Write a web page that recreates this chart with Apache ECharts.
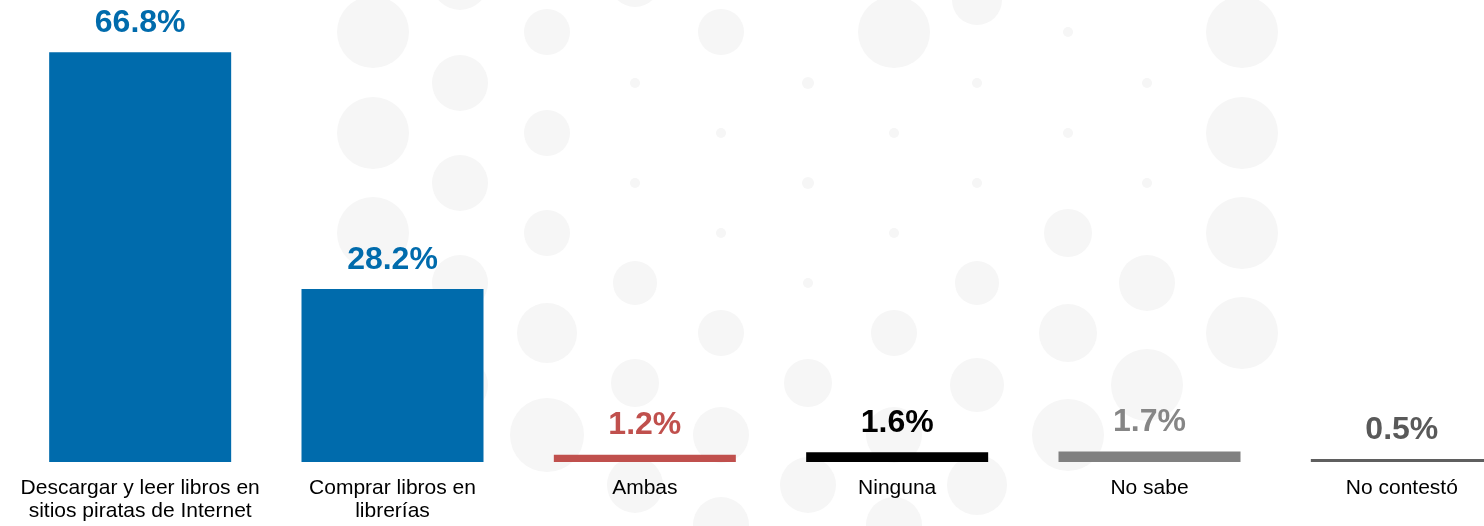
<!DOCTYPE html>
<html lang="es">
  <head>
    <meta charset="UTF-8" />
    <title>Libros</title>
    <script src="https://cdnjs.cloudflare.com/ajax/libs/echarts/6.0.0/echarts.min.js"></script>
    <style>
      html, body { margin: 0; padding: 0; background: #fff; overflow: hidden; }
      /* más ancho que la ventana: la última barra queda cortada a la derecha */
      #main { width: 1528px; height: 526px; }
    </style>
  </head>
  <body>
    <div id="main"></div>
    <script>
      // datos
      var categorias = [
        "Descargar y leer libros en\nsitios piratas de Internet",
        "Comprar libros en\nlibrerías",
        "Ambas",
        "Ninguna",
        "No sabe",
        "No contestó"
      ];
      var valores = [66.8, 28.2, 1.2, 1.6, 1.7, 0.5];

      // colores de barra y de etiqueta
      var coloresBarra = ["#006BAC", "#006BAC", "#C0504D", "#000000", "#808080", "#5F5F5F"];
      var coloresTexto = ["#006BAC", "#006BAC", "#C0504D", "#000000", "#868686", "#595959"];

      // fondo decorativo de puntos (x, y, radio)
      var fondoPuntos = [
        [373, 32, 36], [373, 133, 36], [373, 233, 36], [373, 335, 36],
        [460, -18, 28], [460, 83, 28], [460, 183, 28], [460, 283, 28], [460, 385, 28],
        [547, 32, 23], [547, 133, 23], [547, 233, 23], [547, 333, 30], [547, 435, 37],
        [635, -18, 25], [635, 83, 5], [635, 183, 5], [635, 283, 22], [635, 383, 24], [635, 485, 28],
        [721, 32, 23], [721, 133, 5], [721, 233, 5], [721, 333, 23], [721, 435, 28], [721, 525, 28],
        [808, 83, 6], [808, 183, 6], [808, 283, 5], [808, 383, 24], [808, 485, 28],
        [894, 32, 36], [894, 133, 5], [894, 233, 5], [894, 333, 23], [894, 435, 28], [894, 525, 28],
        [977, 0, 25], [977, 83, 5], [977, 183, 5], [977, 283, 22], [977, 385, 27], [977, 485, 30],
        [1068, 32, 5], [1068, 133, 5], [1068, 233, 24], [1068, 333, 29], [1068, 435, 36],
        [1147, 83, 5], [1147, 183, 5], [1147, 283, 28], [1147, 385, 36],
        [1242, 32, 36], [1242, 133, 36], [1242, 233, 36], [1242, 333, 36]
      ];

      var myChart = echarts.init(document.getElementById("main"));

      var option = {
        backgroundColor: "#ffffff",
        animation: false,
        graphic: fondoPuntos.map(function (p) {
          return {
            type: "circle",
            z: -10,
            silent: true,
            shape: { cx: p[0], cy: p[1], r: p[2] },
            style: { fill: "#F6F6F6" }
          };
        }),
        grid: { left: 14, right: 0, top: 2, bottom: 64 },
        xAxis: {
          type: "category",
          data: categorias,
          axisLine: { show: false },
          axisTick: { show: false },
          axisLabel: {
            interval: 0,
            margin: 15,
            color: "#000",
            fontSize: 21,
            lineHeight: 23,
            fontFamily: "Liberation Sans, Arial, sans-serif"
          }
        },
        yAxis: {
          type: "value",
          min: 0,
          max: 75,
          show: false,
          splitLine: { show: false }
        },
        series: [
          {
            type: "bar",
            barWidth: 182,
            data: valores.map(function (v, i) {
              return {
                value: v,
                itemStyle: { color: coloresBarra[i] },
                label: { color: coloresTexto[i] }
              };
            }),
            label: {
              show: true,
              position: "top",
              distance: 13,
              fontSize: 32,
              fontWeight: "bold",
              fontFamily: "Liberation Sans, Arial, sans-serif",
              formatter: function (p) {
                return p.value.toFixed(1) + "%";
              }
            }
          }
        ]
      };

      myChart.setOption(option);
    </script>
  </body>
</html>
